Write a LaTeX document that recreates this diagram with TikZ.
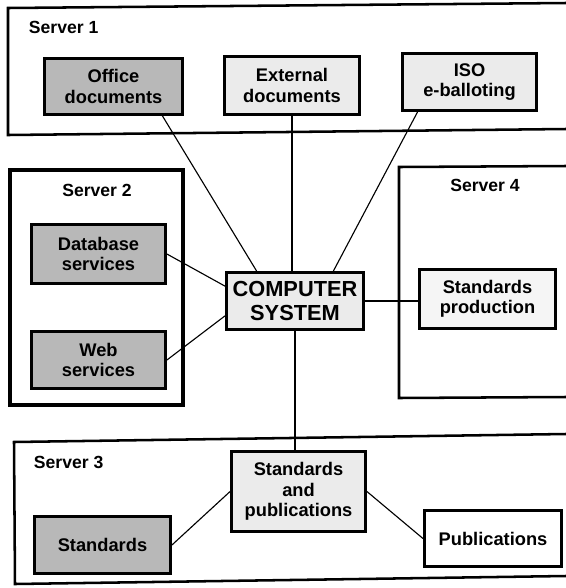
\documentclass[tikz,border=0pt]{standalone}
\usepackage{fontspec}
\setmainfont{Liberation Sans}

\begin{document}
\begin{tikzpicture}[x=0.025cm,y=-0.025cm,
	box/.style={draw,line width=2pt,inner sep=0pt,align=center,font=\bfseries\fontsize{13}{14.5}\selectfont},
	dark/.style={box,fill=black!28},
	light/.style={box,fill=black!8},
	server/.style={line width=1.8pt},
	srvlabel/.style={font=\bfseries\fontsize{12.5}{14}\selectfont},
	link/.style={line width=0.8pt}]
	\useasboundingbox (0,0) rectangle (566,588);

	% servers
	\draw[server] (566,3) -- (8,8) -- (8,135) -- (566,129);
	\draw[server,line width=2.4pt] (10,170) rectangle (183,405);
	\draw[server] (566,166) -- (399,167) -- (399,398) -- (566,397);
	\draw[server] (566,434) -- (14,442) -- (15,584) -- (566,576);

	\node[srvlabel,anchor=west] (srv1) at (24,27) {Server 1};
	\node[srvlabel] (srv2) at (97,190) {Server 2};
	\node[srvlabel] (srv4) at (485,185) {Server 4};
	\node[srvlabel,anchor=west] (srv3) at (29,462) {Server 3};

	\node[dark,minimum width=3.45cm,minimum height=1.4cm] (office) at (113.5,86.5) {Office\\documents};
	\node[light,minimum width=3.38cm,minimum height=1.45cm] (external) at (292,85.5) {External\\documents};
	\node[light,minimum width=3.35cm,minimum height=1.43cm] (iso) at (469.5,82) {ISO\\e-balloting};

	\node[light,minimum width=3.43cm,minimum height=1.43cm,font=\bfseries\fontsize{15.5}{17}\selectfont] (computer) at (295,301) {COMPUTER\\SYSTEM};

	\node[dark,minimum width=3.35cm,minimum height=1.48cm] (database) at (98.5,254) {Database\\services};
	\node[dark,minimum width=3.35cm,minimum height=1.43cm] (web) at (98.5,360) {Web\\services};

	\node[box,fill=black!4,minimum width=3.4cm,minimum height=1.48cm] (stdprod) at (487.5,299) {Standards\\production};

	\node[light,minimum width=3.35cm,minimum height=2cm] (stdpub) at (298.5,491.5) {Standards\\and\\publications};
	\node[dark,minimum width=3.4cm,minimum height=1.43cm] (standards) at (102.5,545) {Standards};
	\node[box,fill=white,minimum width=3.43cm,minimum height=1.4cm] (publications) at (493,538.5) {Publications};

	\draw[link] (office.-31) -- (computer.142);
	\draw[link] (external.south) -- (external.south |- computer.north);
	\draw[link] (iso.-150) -- (computer.38);
	\draw[link] (database.east) -- (computer.168);
	\draw[link] (web.east) -- (computer.-168);
	\draw[link] (computer.east) -- (computer.east -| stdprod.west);
	\draw[link] (computer.south) -- (computer.south |- stdpub.north);
	\draw[link] (stdpub.west) -- (standards.east);
	\draw[link] (stdpub.east) -- (publications.west);

	%\draw[step=20,gray,ultra thin] (0,0) grid (566,588);
\end{tikzpicture}
\end{document}
